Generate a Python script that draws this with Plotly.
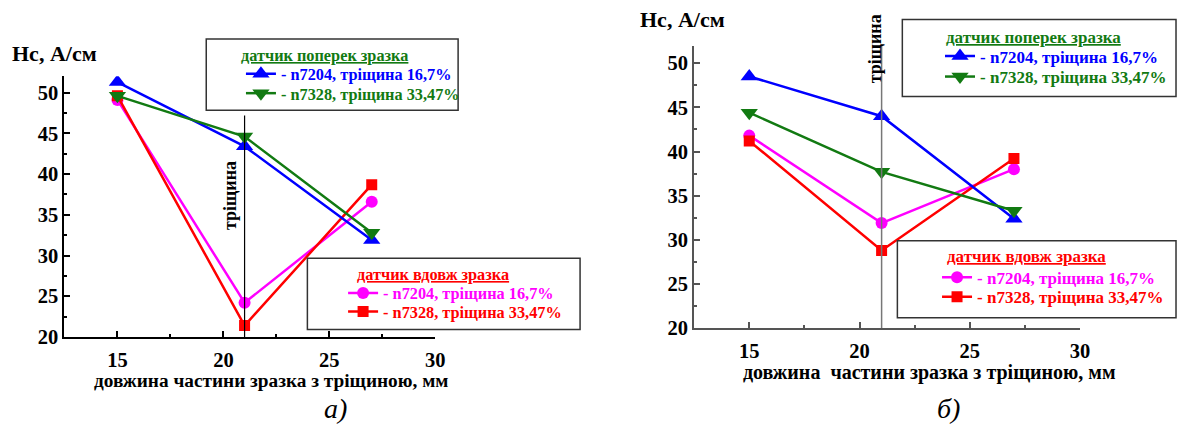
import plotly.graph_objects as go

# Sample length with crack, mm
length_mm = [15, 21, 27]
crack_pos = 21

# Panel a) coercive force Hc, A/cm
a_cross_7204 = [51.3, 43.4, 31.9]
a_cross_7328 = [49.6, 44.6, 32.8]
a_along_7204 = [49.1, 24.2, 36.6]
a_along_7328 = [49.6, 21.4, 38.7]

# Panel b) coercive force Hc, A/cm
b_cross_7204 = [48.5, 44.0, 32.4]
b_cross_7328 = [44.4, 37.7, 33.3]
b_along_7204 = [41.8, 31.9, 38.0]
b_along_7328 = [41.2, 28.8, 39.2]

x_ticks = [15, 20, 25, 30]
y_ticks = [20, 25, 30, 35, 40, 45, 50]

name_7204_167 = "- n7204, тріщина 16,7%"
name_7328_3347 = "- n7328, тріщина 33,47%"
cross_title = "датчик поперек зразка"
along_title = "датчик вдовж зразка"

BLUE = "#0000ff"
GREEN = "#127a12"
MAGENTA = "#ff00ff"
RED = "#ff0000"
FONT = "Liberation Serif, Times New Roman, serif"
W, H = 1187, 435


def px(x):
    return x / W


def py(y):
    return 1 - y / H


# (values, color, marker, legend name, x-axis, y-axis, legend row, font size)
series = [
    (a_along_7204, MAGENTA, "circle", name_7204_167, "x", "y", (346, 301), 16.3),
    (a_along_7328, RED, "square", name_7328_3347, "x", "y", (346, 320), 16.3),
    (a_cross_7204, BLUE, "triangle-up", name_7204_167, "x", "y", (243, 76), 16.3),
    (a_cross_7328, GREEN, "triangle-down", name_7328_3347, "x", "y", (243, 96), 16.3),
    (b_along_7204, MAGENTA, "circle", name_7204_167, "x2", "y2", (945, 285), 17),
    (b_along_7328, RED, "square", name_7328_3347, "x2", "y2", (945, 305), 17),
    (b_cross_7204, BLUE, "triangle-up", name_7204_167, "x2", "y2", (948, 58), 17),
    (b_cross_7328, GREEN, "triangle-down", name_7328_3347, "x2", "y2", (948, 79), 17),
]

size_of = {"triangle-up": 15, "triangle-down": 15, "circle": 12, "square": 11}

fig = go.Figure()
legends = {}
for i, (vals, col, sym, name, xa, ya, (lx, ly), fs) in enumerate(series):
    leg = "legend" if i == 0 else f"legend{i + 1}"
    fig.add_trace(go.Scatter(
        x=length_mm, y=vals, mode="lines+markers", xaxis=xa, yaxis=ya,
        name=name, line=dict(color=col, width=2.5),
        marker=dict(symbol=sym, size=size_of[sym], color=col),
        legend=leg, showlegend=True,
    ))
    legends[leg] = dict(
        x=px(lx), y=py(ly), xanchor="left", yanchor="middle",
        bgcolor="rgba(0,0,0,0)", borderwidth=0, itemwidth=30,
        font=dict(family=FONT, size=fs, color=col, weight="bold"),
    )
fig.update_layout(**legends)


def axis_style(color, domain, anchor, rng, ticks, standoff):
    return dict(
        domain=domain, anchor=anchor, range=rng, tickvals=ticks,
        showgrid=False, zeroline=False, showline=True,
        linecolor=color, linewidth=2, ticks="inside", ticklen=6,
        tickcolor=color, tickwidth=1.5, ticklabelstandoff=standoff,
        minor=dict(ticks="inside", ticklen=3, tickcolor=color, dtick=2.5,
                   showgrid=False),
        tickfont=dict(family=FONT, size=20.5, color="black", weight="bold"),
    )


fig.update_layout(
    width=W, height=H, margin=dict(l=0, r=0, t=0, b=0),
    paper_bgcolor="white", plot_bgcolor="white",
    xaxis=axis_style("black", [px(65), px(439)], "y", [12.5, 30], x_ticks, 3),
    yaxis=axis_style("black", [py(345.7), py(78.3)], "x", [20, 52], y_ticks, 0),
    xaxis2=axis_style("#555555", [px(700), px(1089.3)], "y2", [12.5, 30], x_ticks, 3),
    yaxis2=axis_style("#555555", [py(336.7), py(46.7)], "x2", [20, 52], y_ticks, 0),
)

# Legend frames
for x0, y0, x1, y1 in [(208, 40, 462, 113), (310, 265, 585, 338),
                       (910, 20, 1186, 99), (905, 247, 1186, 326)]:
    fig.add_shape(type="rect", xref="paper", yref="paper",
                  x0=px(x0), x1=px(x1), y0=py(y1), y1=py(y0),
                  line=dict(color="#333333", width=1.5))

# Crack position markers
fig.add_shape(type="line", xref="x", yref="y", x0=crack_pos, x1=crack_pos,
              y0=20, y1=47.2, line=dict(color="black", width=1.2))
fig.add_shape(type="line", xref="x2", yref="y2", x0=crack_pos, x1=crack_pos,
              y0=20, y1=52, line=dict(color="#777777", width=1.5))


def bold(size, color="black"):
    return dict(family=FONT, size=size, color=color, weight="bold")


annotations = [
    dict(x=px(327), y=py(57), text=f"<u>{cross_title}</u>", font=bold(16.3, GREEN)),
    dict(x=px(437), y=py(282), text=f"<u>{along_title}</u>", font=bold(16.3, RED)),
    dict(x=px(1042), y=py(38), text=f"<u>{cross_title}</u>", font=bold(17, GREEN)),
    dict(x=px(1035), y=py(263), text=f"<u>{along_title}</u>", font=bold(17, RED)),
    dict(x=px(232), y=py(201), text="тріщина", textangle=-90, font=bold(18)),
    dict(x=px(882), y=py(50), text="тріщина", textangle=-90, font=bold(18)),
    dict(x=px(10), y=py(55), text="Hc, А/см", xanchor="left", font=bold(22)),
    dict(x=px(643), y=py(20), text="Hc, А/см", xanchor="left", font=bold(22)),
    dict(x=px(273), y=py(390), text="довжина частини зразка з тріщиною, мм",
         font=bold(19.3)),
    dict(x=px(937), y=py(382), text="довжина  частини зразка з тріщиною, мм",
         font=bold(20)),
    dict(x=px(338), y=py(419), text="а)",
         font=dict(family=FONT, size=28, color="black", style="italic")),
    dict(x=px(957), y=py(419), text="б)",
         font=dict(family=FONT, size=28, color="black", style="italic")),
]
for a in annotations:
    a.setdefault("xanchor", "center")
    fig.add_annotation(xref="paper", yref="paper", showarrow=False,
                       yanchor="middle", **a)

fig.write_html("out.html")
